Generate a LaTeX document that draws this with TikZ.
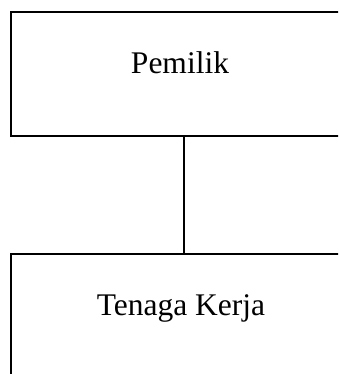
\documentclass[tikz,border=0pt]{standalone}
\usepackage{fontspec}
\setmainfont{Liberation Serif}
\begin{document}
\begin{tikzpicture}[x=1pt,y=-1pt,
  boxstyle/.style={draw=black, line width=2.4pt, rectangle, inner sep=0pt},
  labelstyle/.style={font=\fontsize{31.5}{36}\selectfont, inner sep=0pt, anchor=base},
  linkstyle/.style={draw=black, line width=2pt}]
\useasboundingbox (0,0) rectangle (338,374);
\clip (0,0) rectangle (338,374);
\node[boxstyle, minimum width=345pt, minimum height=124pt] (top) at (183.5,74) {};
\node[boxstyle, minimum width=345pt, minimum height=160pt] (bot) at (183.5,334) {};
\node[labelstyle] (toplabel) at (180,74) {Pemilik};
\node[labelstyle] (botlabel) at (181,315) {Tenaga Kerja};
\draw[linkstyle] (top.south) -- (bot.north);
\end{tikzpicture}
\end{document}
